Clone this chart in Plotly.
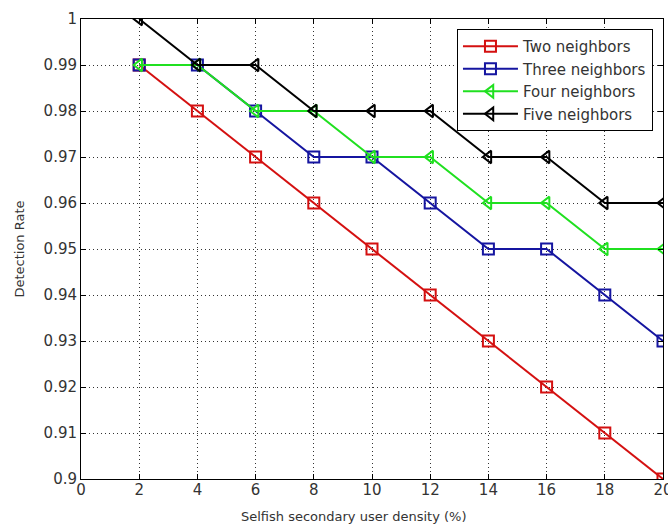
import plotly.graph_objects as go

density = [2, 4, 6, 8, 10, 12, 14, 16, 18, 20]
two_neighbors = [0.99, 0.98, 0.97, 0.96, 0.95, 0.94, 0.93, 0.92, 0.91, 0.90]
three_neighbors = [0.99, 0.99, 0.98, 0.97, 0.97, 0.96, 0.95, 0.95, 0.94, 0.93]
four_neighbors = [0.99, 0.99, 0.98, 0.98, 0.97, 0.97, 0.96, 0.96, 0.95, 0.95]
five_neighbors = [1.00, 0.99, 0.99, 0.98, 0.98, 0.98, 0.97, 0.97, 0.96, 0.96]

x_title = "Selfish secondary user density (%)"
y_title = "Detection Rate"

series = [
    ("Two neighbors", two_neighbors, "#d41010", "square-open"),
    ("Three neighbors", three_neighbors, "#1515a0", "square-open"),
    ("Four neighbors", four_neighbors, "#20e020", "triangle-left-open"),
    ("Five neighbors", five_neighbors, "#000000", "triangle-left-open"),
]

FONT = "DejaVu Sans, Verdana, sans-serif"
TXT = "#333"

fig = go.Figure()
for name, vals, color, sym in series:
    fig.add_trace(go.Scatter(
        x=density, y=vals, name=name, mode="lines+markers",
        line=dict(color=color, width=2),
        marker=dict(symbol=sym, size=11, color=color, line=dict(width=2, color=color)),
    ))

axis_common = dict(
    showline=True, linecolor="black", linewidth=1, mirror="ticks",
    ticks="inside", ticklen=5, tickcolor="black",
    showgrid=True, gridcolor="#333", griddash="1px,3px", gridwidth=1,
    zeroline=False, ticklabeloverflow="allow",
    tickfont=dict(family=FONT, size=15, color=TXT),
)

fig.update_xaxes(range=[0, 20], tickvals=list(range(0, 21, 2)),
                 ticklabelstandoff=-3, **axis_common)
fig.update_yaxes(range=[0.9, 1.0], tickvals=[0.9 + 0.01 * i for i in range(11)],
                 ticktext=["0.9", "0.91", "0.92", "0.93", "0.94", "0.95", "0.96", "0.97", "0.98", "0.99", "1"],
                 title=dict(text=y_title, font=dict(family=FONT, size=13, color=TXT),
                            standoff=16),
                 **axis_common)

fig.add_annotation(text=x_title, xref="paper", yref="paper",
                   x=(353 - 81) / 582, y=-(516 - 479) / 460,
                   xanchor="center", yanchor="middle", showarrow=False,
                   font=dict(family=FONT, size=13, color=TXT))

fig.update_layout(
    width=668, height=526,
    margin=dict(l=81, r=5, t=19, b=47, autoexpand=False),
    paper_bgcolor="white", plot_bgcolor="white",
    showlegend=True,
    legend=dict(x=0.646, y=0.978, xanchor="left", yanchor="top",
                bgcolor="white", bordercolor="black", borderwidth=1,
                font=dict(family=FONT, size=15, color=TXT),
                tracegroupgap=0, itemwidth=55),
)

fig.write_html("out.html", config={"displayModeBar": False},
               post_script="document.body.style.margin='0';document.body.style.overflow='hidden';")
